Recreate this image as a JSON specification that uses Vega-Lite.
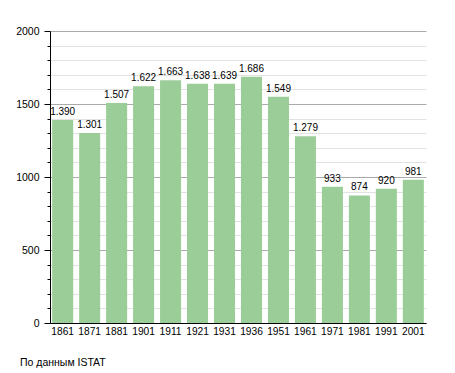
{
  "$schema": "https://vega.github.io/schema/vega-lite/v6.json",
  "width": 376,
  "height": 292,
  "autosize": {"type": "none"},
  "padding": {"left": 50, "top": 31, "right": 29, "bottom": 50},
  "background": "white",
  "config": {
    "locale": {"number": {"decimal": ",", "thousands": ".", "grouping": [3], "currency": ["", " €"]}},
    "font": "Liberation Sans",
    "view": {"stroke": null}
  },
  "title": {
    "text": "По данным ISTAT",
    "orient": "bottom",
    "anchor": "start",
    "frame": "group",
    "dx": -30,
    "offset": 22,
    "fontSize": 10.5,
    "fontWeight": "normal",
    "color": "#000"
  },
  "data": {"values": [
    {"year": "1861", "pop": 1390},
    {"year": "1871", "pop": 1301},
    {"year": "1881", "pop": 1507},
    {"year": "1901", "pop": 1622},
    {"year": "1911", "pop": 1663},
    {"year": "1921", "pop": 1638},
    {"year": "1931", "pop": 1639},
    {"year": "1936", "pop": 1686},
    {"year": "1951", "pop": 1549},
    {"year": "1961", "pop": 1279},
    {"year": "1971", "pop": 933},
    {"year": "1981", "pop": 874},
    {"year": "1991", "pop": 920},
    {"year": "2001", "pop": 981}
  ]},
  "encoding": {
    "x": {
      "field": "year", "type": "ordinal", "sort": null,
      "scale": {"paddingInner": 0.22, "paddingOuter": 0.08},
      "axis": {"title": null, "labelAngle": 0, "ticks": false, "domainColor": "#000", "labelFontSize": 10.2, "labelColor": "#000", "labelPadding": 3}
    },
    "y": {
      "field": "pop", "type": "quantitative",
      "scale": {"domain": [0, 2000], "nice": false},
      "axis": {
        "title": null,
        "values": [0,100,200,300,400,500,600,700,800,900,1000,1100,1200,1300,1400,1500,1600,1700,1800,1900,2000],
        "labelExpr": "datum.value % 500 === 0 ? format(datum.value, 'd') : ''",
        "grid": true,
        "gridColor": {"condition": {"test": "datum.value % 500 === 0", "value": "#aaaaaa"}, "value": "#e2e2e2"},
        "tickSize": {"condition": {"test": "datum.value % 500 === 0", "value": 6}, "value": 3},
        "tickColor": "#000",
        "domainColor": "#000",
        "labelFontSize": 10.5,
        "labelColor": "#000",
        "labelPadding": 5
      }
    }
  },
  "layer": [
    {"mark": {"type": "bar", "color": "#9acd98"}},
    {
      "mark": {"type": "text", "baseline": "bottom", "dy": -3, "fontSize": 10, "color": "#000"},
      "encoding": {"text": {"field": "pop", "type": "quantitative", "format": ",d"}}
    }
  ]
}
